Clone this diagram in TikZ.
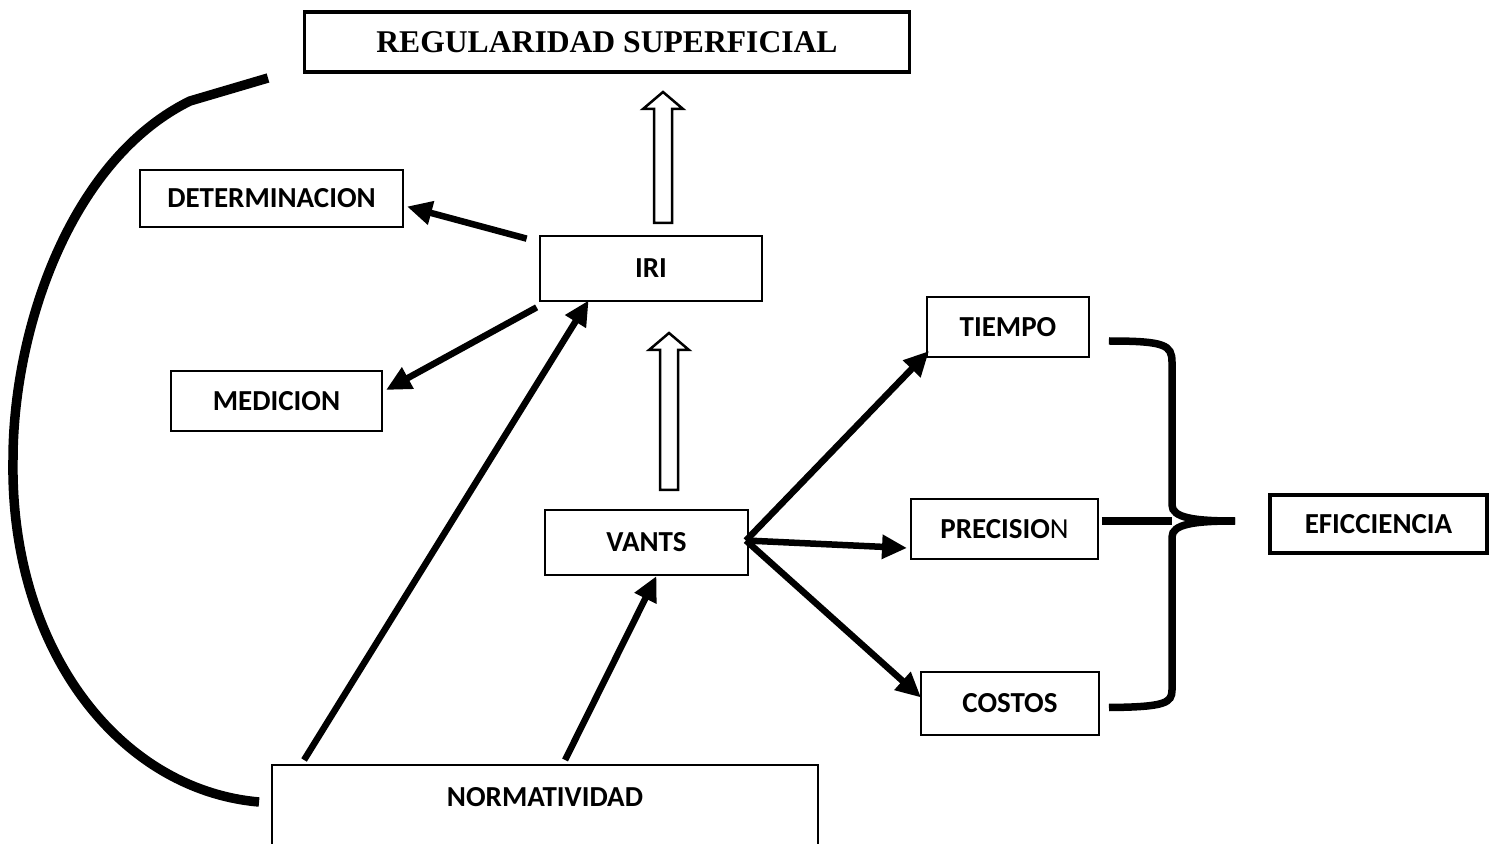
\documentclass[tikz,border=0pt]{standalone}
\usepackage{fontspec}
\usepackage{tikz}
\usetikzlibrary{calc,arrows.meta}
\setmainfont{Carlito}
\newfontfamily\timesbold{Liberation Serif}
\newcommand{\boxfont}{\fontsize{16.5pt}{19pt}\selectfont\bfseries}
\newcommand{\regfont}{\timesbold\fontsize{18pt}{21pt}\selectfont\bfseries}
% flecha hueca: x, y de la base, y de la punta
\newcommand{\hollowarrow}[3]{%
    \draw[line width=0.05cm,fill=white] (#1-9,#2) -- (#1+9,#2) -- (#1+9,#3+17) -- (#1+20,#3+17)
        -- (#1,#3) -- (#1-20,#3+17) -- (#1-9,#3+17) -- cycle;}

\begin{document}
\begin{tikzpicture}[x=0.02cm,y=-0.02cm,
    box/.style={draw,line width=0.04cm,inner sep=0pt,font=\boxfont},
    link/.style={line width=0.13cm,-{Triangle[length=0.5cm,width=0.46cm]}},
    brace/.style={line width=0.15cm}]
    \useasboundingbox (0,0) rectangle (1495,844);
    \clip (0,0) rectangle (1495,844);

    % cajas
    \node[box,line width=0.07cm,minimum width=12.1cm,minimum height=1.2cm,font=\regfont] (reg) at (607,42) {REGULARIDAD SUPERFICIAL};
    \node[box,minimum width=5.26cm,minimum height=1.14cm] (det) at (271.5,198.5) {DETERMINACION};
    \node[box,line width=0.055cm,minimum width=4.44cm,minimum height=1.3cm] (iri) at (651,268.5) {IRI};
    \node[box,minimum width=4.22cm,minimum height=1.2cm] (med) at (276.5,401) {MEDICION};
    \node[box,minimum width=3.24cm,minimum height=1.2cm] (tiempo) at (1008,327) {TIEMPO};
    \node[box,minimum width=3.74cm,minimum height=1.2cm] (precision) at (1004.5,529) {PRECISIO{\mdseries N}};
    \node[box,minimum width=4.06cm,minimum height=1.3cm] (vants) at (646.5,542.5) {VANTS};
    \node[box,minimum width=3.56cm,minimum height=1.26cm] (costos) at (1010,703.5) {COSTOS};
    \node[box,line width=0.09cm,minimum width=4.34cm,minimum height=1.16cm] (efic) at (1378.5,524) {EFICCIENCIA};
    \node[box,anchor=north,minimum width=10.92cm,inner ysep=0.45cm,text depth=1.2cm] (norm) at (545,764) {NORMATIVIDAD};

    % flechas huecas
    \hollowarrow{663}{223}{92}
    \hollowarrow{669}{490}{333}

    % flechas
    \draw[link] ($(iri.north west)+(-12,4)$) -- ($(det.east)+(3,8)$);
    \draw[link] ($(iri.south west)+(-2,5)$) -- ($(med.east)+(3,-11)$);
    \draw[link] ($(norm.north west)+(33,-4)$) -- ($(iri.south west)+(50,-2)$);
    \draw[link] ($(norm.north west)+(294,-4)$) -- ($(vants.south)+(10,0)$);
    \draw[link] ($(vants.east)+(-3,-2)$) -- ($(tiempo.south west)+(3,-7)$);
    \draw[link] ($(vants.east)+(-3,-2)$) -- ($(precision.west)+(-3,19)$);
    \draw[link] ($(vants.east)+(-3,-2)$) -- ($(costos.west)+(1,-6)$);

    % llave
    \coordinate (btip) at (1235,521);
    \draw[brace] ($(tiempo.east)+(19,14)$) .. controls (1165,341) and (1172,345) .. (1172,362)
        -- (1172,505) .. controls (1172,518) and (1195,521) .. (btip);
    \draw[brace] (btip) .. controls (1195,521) and (1172,524) .. (1172,537)
        -- (1172,690) .. controls (1172,703) and (1165,707) .. ($(costos.east)+(9,4)$);
    \draw[brace] ($(precision.east)+(3,-8)$) -- (1172,521);

    % arco
    \coordinate (arcTop) at (268,78);
    \draw[line width=0.19cm] (arcTop) -- (190,101) .. controls (70,160) and (13,330) .. (13,460)
        .. controls (10,650) and (120,790) .. ($(norm.north west)+(-12,38)$);
\end{tikzpicture}
\end{document}
